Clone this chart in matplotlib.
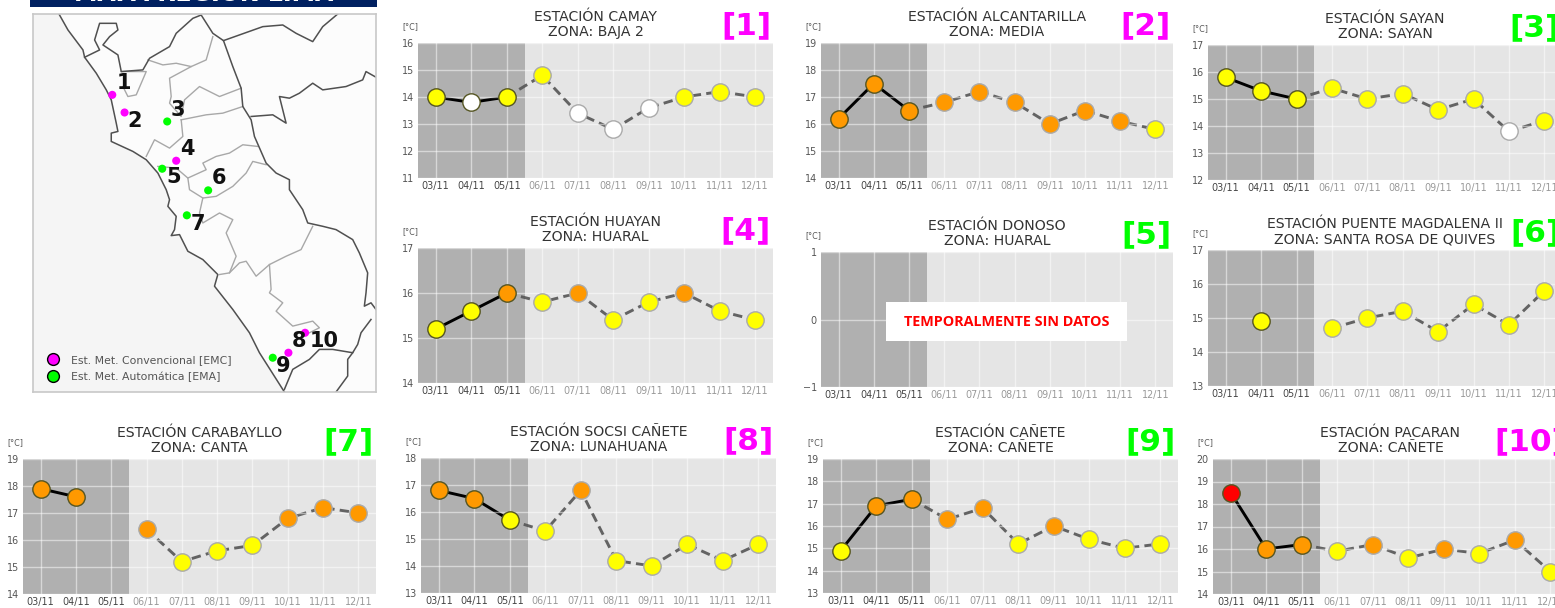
import numpy as np
import matplotlib
matplotlib.use('Agg')
import matplotlib.pyplot as plt
from matplotlib.lines import Line2D
from matplotlib.patches import Rectangle

W, H = 1555, 608
nan = np.nan

dias = ['03/11', '04/11', '05/11', '06/11', '07/11', '08/11', '09/11', '10/11', '11/11', '12/11']

# temperatura por estacion (3 dias observados + 7 de pronostico)
camay = [14, 13.8, 14, 14.8, 13.4, 12.8, 13.6, 14, 14.2, 14]
alcantarilla = [16.2, 17.5, 16.5, 16.8, 17.2, 16.8, 16, 16.5, 16.1, 15.8]
sayan = [15.8, 15.3, 15, 15.4, 15, 15.2, 14.6, 15, 13.8, 14.2]
huayan = [15.2, 15.6, 16, 15.8, 16, 15.4, 15.8, 16, 15.6, 15.4]
donoso = [nan] * 10
magdalena = [nan, 14.9, nan, 14.7, 15, 15.2, 14.6, 15.4, 14.8, 15.8]
carabayllo = [17.9, 17.6, nan, 16.4, 15.2, 15.6, 15.8, 16.8, 17.2, 17]
socsi = [16.8, 16.5, 15.7, 15.3, 16.8, 14.2, 14, 14.8, 14.2, 14.8]
canete = [14.9, 16.9, 17.2, 16.3, 16.8, 15.2, 16, 15.4, 15, 15.2]
pacaran = [18.5, 16, 16.2, 15.9, 16.2, 15.6, 16, 15.8, 16.4, 15]

# titulo, zona, serie, ylim, color de etiqueta, caja del eje en pixeles (x0, x1, y0, y1)
MAG = '#ff00ff'
GRN = '#00ff00'
panels = [
    ('CAMAY', 'BAJA 2', camay, (11, 16), MAG, (418, 773, 43, 178)),
    ('ALCANTARILLA', 'MEDIA', alcantarilla, (14, 19), MAG, (821, 1173, 43, 178)),
    ('SAYAN', 'SAYAN', sayan, (12, 17), GRN, (1208, 1562, 45, 180)),
    ('HUAYAN', 'HUARAL', huayan, (14, 17), MAG, (418, 773, 248, 383)),
    ('DONOSO', 'HUARAL', donoso, (-1, 1), GRN, (821, 1173, 252, 387)),
    ('PUENTE MAGDALENA II', 'SANTA ROSA DE QUIVES', magdalena, (13, 17), GRN, (1208, 1562, 250, 386)),
    ('CARABAYLLO', 'CANTA', carabayllo, (14, 19), GRN, (23, 376, 459, 594)),
    ('SOCSI CAÑETE', 'LUNAHUANA', socsi, (13, 18), MAG, (421, 776, 458, 593)),
    ('CAÑETE', 'CAÑETE', canete, (13, 19), GRN, (823, 1178, 459, 593)),
    ('PACARAN', 'CAÑETE', pacaran, (14, 20), MAG, (1213, 1568, 459, 594)),
]

# mapa: contornos
costa = [(178, 42), (205, 90), (250, 150), (255, 172), (290, 220), (320, 270), (335, 300), (350, 370), (355, 395),
         (335, 400), (335, 425), (400, 455), (440, 480), (475, 520), (500, 570), (510, 600), (505, 620), (530, 650),
         (525, 690), (515, 708), (540, 705), (565, 755), (610, 780), (655, 825), (645, 860), (700, 930), (750, 1000),
         (780, 1060), (855, 1178)]
borde_lima = [(255, 172), (300, 150), (285, 120), (300, 70), (350, 70), (355, 90), (330, 110), (310, 135), (355, 165),
              (365, 215), (430, 210), (450, 175), (510, 140), (530, 100), (580, 55), (605, 45), (640, 100), (672, 122),
              (700, 200), (725, 265), (730, 320), (755, 360), (765, 410), (800, 490), (830, 520), (870, 540), (870, 570),
              (910, 630), (925, 670), (970, 680), (1010, 690), (1060, 720), (1080, 760), (1105, 820), (1100, 880),
              (1095, 920), (1115, 910), (1130, 930)]
borde_sur = [(1115, 960), (1085, 1000), (1075, 1035), (1060, 1060), (1000, 1050), (960, 1050), (930, 1080), (880, 1110),
             (855, 1170)]
borde_otros = [
    [(672, 122), (790, 80), (850, 75), (890, 100), (940, 125), (970, 80), (1015, 42)],
    [(755, 350), (820, 345), (860, 370), (840, 290), (870, 295), (900, 280), (940, 250), (970, 270), (1040, 260),
     (1090, 240), (1100, 215), (1130, 232)],
    [(1010, 1178), (1045, 1130), (1045, 1080), (1060, 1060)],
]
provincias = [
    [(445, 180), (490, 195), (530, 190), (575, 200), (620, 180), (640, 110)],
    [(575, 200), (510, 235), (515, 290), (510, 310), (545, 350), (555, 300), (600, 260), (660, 290), (725, 265)],
    [(545, 360), (620, 345), (670, 340), (730, 320)],
    [(545, 360), (550, 410), (510, 445), (465, 420), (440, 470)],
    [(365, 215), (440, 215), (410, 285), (385, 290), (370, 260)],
    [(475, 500), (530, 505), (565, 535), (620, 510), (610, 490), (650, 470), (690, 460), (730, 435), (775, 440)],
    [(565, 535), (570, 570), (610, 595), (650, 590), (700, 560), (740, 520), (760, 485), (800, 495)],
    [(610, 595), (600, 640), (610, 670), (660, 640), (700, 660), (680, 700), (710, 770), (690, 820), (660, 825)],
    [(690, 820), (720, 790), (740, 785), (770, 830), (810, 795), (860, 770), (905, 750), (940, 680)],
    [(810, 795), (815, 870), (810, 880), (850, 910), (830, 935), (880, 980), (940, 965), (960, 985), (930, 1000)],
]

est_x = [338, 375, 503, 530, 488, 626, 562, 867, 820, 917]
est_y = [285, 338, 365, 483, 507, 572, 647, 1060, 1075, 1000]
est_c = [MAG, MAG, GRN, MAG, GRN, GRN, GRN, MAG, GRN, MAG]
num_x = [372, 406, 535, 563, 522, 659, 595, 898, 851, 975]
num_y = [248, 365, 330, 447, 533, 535, 672, 1024, 1100, 1026]


def new_axes(fig, x0, x1, y0, y1):
    return fig.add_axes([x0 / W, 1 - y1 / H, (x1 - x0) / W, (y1 - y0) / H])


def temp_color(t):
    if t < 14:
        return 'white'
    if t < 16:
        return '#ffff00'
    if t < 18:
        return '#ff9900'
    return '#ff0000'


def draw_map(fig):
    ax = new_axes(fig, 33, 376, 14, 392)
    ax.set_xlim(100, 1130)
    ax.set_ylim(1178, 42)
    ax.set_facecolor('#fcfcfc')
    ax.set_xticks([])
    ax.set_yticks([])
    for s in ax.spines.values():
        s.set_color('#c8c8c8')
        s.set_linewidth(1.2)

    mar = np.array(costa + [(100, 1178), (100, 42)])
    ax.fill(mar[:, 0], mar[:, 1], color='#f5f5f5', lw=0)

    for line in provincias:
        p = np.array(line)
        ax.plot(p[:, 0], p[:, 1], color='#a8a8a8', lw=1)
    for line in [costa, borde_lima, borde_sur] + borde_otros:
        p = np.array(line)
        ax.plot(p[:, 0], p[:, 1], color='#505050', lw=1.1)

    ax.scatter(est_x, est_y, c=est_c, s=34, lw=0, zorder=3)
    for i in range(len(est_x)):
        ax.text(num_x[i], num_y[i], str(i + 1), fontsize=15, fontweight='bold', color='#111111',
                ha='center', va='center', zorder=4)

    handles = [Line2D([], [], ls='', marker='o', ms=8.5, mfc=MAG, mec='black', mew=1),
               Line2D([], [], ls='', marker='o', ms=8.5, mfc=GRN, mec='black', mew=1)]
    ax.legend(handles, ['Est. Met. Convencional [EMC]', 'Est. Met. Automática [EMA]'], loc='lower left',
              frameon=False, fontsize=7.8, labelcolor='#555555', bbox_to_anchor=(-0.003, 0.0),
              handletextpad=0.7, labelspacing=0.62)

    # franja del titulo, cortada por el borde de la imagen
    top = new_axes(fig, 30, 377, 0, 7)
    top.set_facecolor('#002060')
    top.set_xticks([])
    top.set_yticks([])
    for s in top.spines.values():
        s.set_visible(False)
    top.text(0.5, 1.8, 'MAPA REGION LIMA', color='white', fontsize=17, fontweight='bold',
             ha='center', va='center', transform=top.transAxes, clip_on=True)


def draw_panel(fig, nombre, zona, serie, ylim, col, box):
    ax = new_axes(fig, *box)
    ax.set_facecolor('#e5e5e5')
    ax.set_xlim(-0.5, 9.5)
    ax.set_ylim(*ylim)
    ax.axvspan(-0.5, 2.5, color='#b0b0b0', lw=0, zorder=0.5)
    ax.grid(True, color='white', alpha=0.5, lw=1, zorder=1)
    ax.set_axisbelow(False)
    for s in ax.spines.values():
        s.set_visible(False)

    x = np.arange(10)
    y = np.array(serie, dtype=float)
    # tramo de pronostico punteado desde el ultimo dia observado
    ax.plot(x[2:], y[2:], color='#555555', lw=2.1, ls=(0, (3.2, 1.8)), alpha=0.9, zorder=2)
    ax.plot(x[:3], y[:3], color='black', lw=2.1, zorder=2.5)
    for i in x:
        if np.isnan(y[i]):
            continue
        edge = '#555522' if i < 3 else '#aaaaaa'
        ax.plot(x[i], y[i], 'o', ms=12.5, mfc=temp_color(y[i]), mec=edge, mew=1, zorder=3)

    ax.set_xticks(x)
    ax.set_xticklabels(dias, fontsize=6.9)
    for i, lab in enumerate(ax.get_xticklabels()):
        lab.set_color('#444444' if i < 3 else '#999999')
    ax.set_yticks(np.arange(ylim[0], ylim[1] + 1))
    ax.tick_params(axis='x', length=0, labelsize=6.9, pad=2.5)
    ax.tick_params(axis='y', length=0, labelsize=6.9, pad=3, labelcolor='#555555')

    ax.set_title('ESTACIÓN %s\nZONA: %s' % (nombre, zona), fontsize=10.1, color='#333333', pad=5, linespacing=1.12)
    ax.annotate('[°C]', (0, 1), xycoords='axes fraction', xytext=(-16, 12), textcoords='offset pixels',
                fontsize=5.8, color='#555555', va='bottom')
    n = panels_index(nombre) + 1
    ax.annotate('[%d]' % n, (1, 1), xycoords='axes fraction', xytext=(-2, 3), textcoords='offset pixels',
                fontsize=22.5, fontweight='bold', color=col, ha='right', va='bottom', annotation_clip=False)

    if np.all(np.isnan(y)):
        ax.add_patch(Rectangle((0.185, 0.34), 0.684, 0.29, transform=ax.transAxes, color='white', lw=0, zorder=4))
        ax.text(0.527, 0.485, 'TEMPORALMENTE SIN DATOS', transform=ax.transAxes, color='#ff0000', fontsize=10.4,
                fontweight='bold', family='Open Sans', ha='center', va='center', zorder=5)


def panels_index(nombre):
    return [p[0] for p in panels].index(nombre)


############### MAIN
fig = plt.figure(figsize=(W / 100, H / 100), dpi=100, facecolor='white')
draw_map(fig)
for nombre, zona, serie, ylim, col, box in panels:
    draw_panel(fig, nombre, zona, serie, ylim, col, box)
fig.savefig('out.png', dpi=100)
